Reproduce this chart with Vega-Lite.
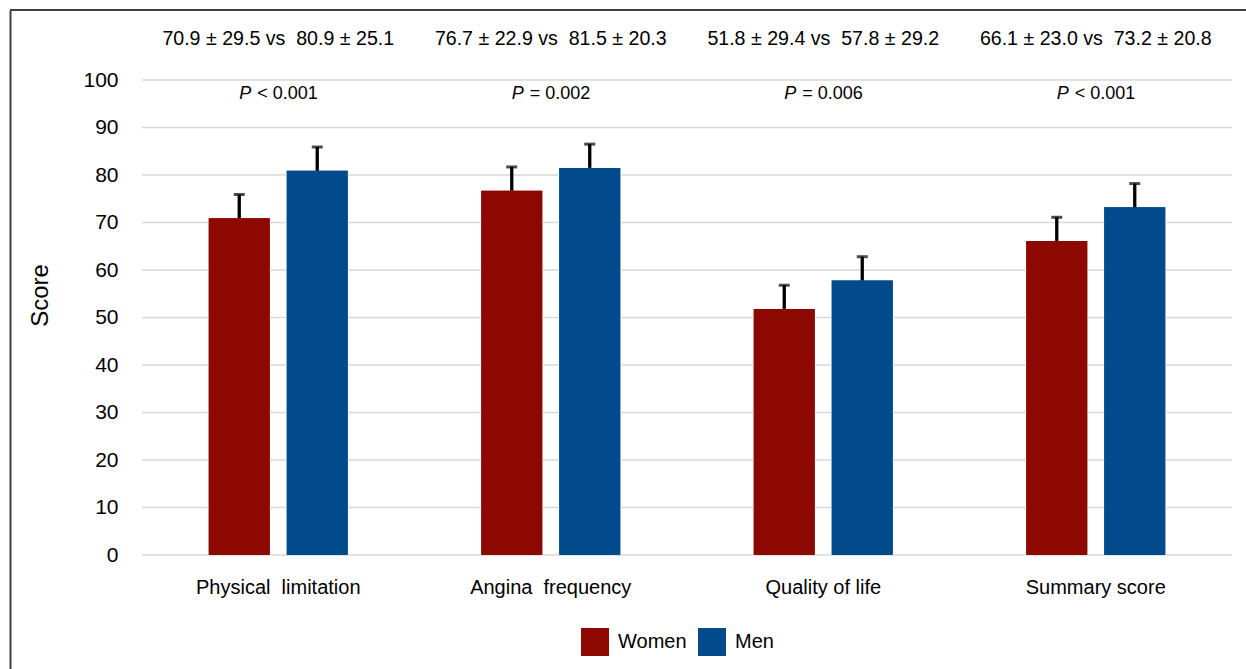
{
  "$schema": "https://vega.github.io/schema/vega-lite/v6.json",
  "width": 1236,
  "height": 659,
  "autosize": {"type": "none"},
  "padding": {"left": 10, "top": 10, "right": 0, "bottom": 0},
  "background": "white",
  "config": {"view": {"stroke": null}, "font": "Liberation Sans"},
  "datasets": {
    "scores": [
      {"category": "Physical\u00a0 limitation", "sex": "Women", "value": 70.9, "sd": 29.5, "upper": 75.9},
      {"category": "Physical\u00a0 limitation", "sex": "Men", "value": 80.9, "sd": 25.1, "upper": 85.9},
      {"category": "Angina\u00a0 frequency", "sex": "Women", "value": 76.7, "sd": 22.9, "upper": 81.7},
      {"category": "Angina\u00a0 frequency", "sex": "Men", "value": 81.5, "sd": 20.3, "upper": 86.5},
      {"category": "Quality of life", "sex": "Women", "value": 51.8, "sd": 29.4, "upper": 56.8},
      {"category": "Quality of life", "sex": "Men", "value": 57.8, "sd": 29.2, "upper": 62.8},
      {"category": "Summary score", "sex": "Women", "value": 66.1, "sd": 23.0, "upper": 71.1},
      {"category": "Summary score", "sex": "Men", "value": 73.2, "sd": 20.8, "upper": 78.2}
    ],
    "stats": [
      {"category": "Physical\u00a0 limitation", "label": "70.9 ± 29.5 vs\u00a0 80.9 ± 25.1", "p": "< 0.001"},
      {"category": "Angina\u00a0 frequency", "label": "76.7 ± 22.9 vs\u00a0 81.5 ± 20.3", "p": "= 0.002"},
      {"category": "Quality of life", "label": "51.8 ± 29.4 vs\u00a0 57.8 ± 29.2", "p": "= 0.006"},
      {"category": "Summary score", "label": "66.1 ± 23.0 vs\u00a0 73.2 ± 20.8", "p": "< 0.001"}
    ],
    "grid": [
      {"tick": 0}, {"tick": 10}, {"tick": 20}, {"tick": 30}, {"tick": 40}, {"tick": 50},
      {"tick": 60}, {"tick": 70}, {"tick": 80}, {"tick": 90}, {"tick": 100}
    ]
  },
  "layer": [
    {
      "data": {"name": "scores"},
      "mark": {"type": "bar"},
      "encoding": {
        "x": {
          "field": "category", "type": "nominal", "sort": null,
          "scale": {"range": [132, 1222], "paddingInner": 0, "paddingOuter": 0},
          "axis": {
            "orient": "bottom", "offset": -114, "domain": false, "ticks": false, "tickSize": 0,
            "labelPadding": 38, "labelBaseline": "alphabetic", "labelFontSize": 20,
            "labelColor": "black", "labelAngle": 0, "labelLimit": 400, "title": null
          }
        },
        "xOffset": {
          "field": "sex", "type": "nominal", "sort": ["Women", "Men"],
          "scale": {"domain": ["Women", "Men"], "paddingInner": 0.218, "paddingOuter": 0.856}
        },
        "y": {
          "field": "value", "type": "quantitative",
          "scale": {"domain": [-24, 114.74], "nice": false, "zero": false},
          "axis": {
            "values": [0, 10, 20, 30, 40, 50, 60, 70, 80, 90, 100],
            "grid": false, "domain": true, "domainColor": "#404040", "domainWidth": 2,
            "ticks": false, "tickSize": 0, "labelPadding": -108, "labelFontSize": 21,
            "labelColor": "black", "title": "Score", "titleFontSize": 24,
            "titleFontWeight": "normal", "titleColor": "black", "titleAngle": -90,
            "titleX": 30, "titleY": 285, "titleBaseline": "middle", "titleAlign": "center"
          }
        },
        "y2": {"datum": 0},
        "color": {
          "field": "sex", "type": "nominal",
          "scale": {"domain": ["Women", "Men"], "range": ["#8C0800", "#014A8C"]},
          "legend": {
            "orient": "none", "legendX": 571, "legendY": 618, "direction": "horizontal",
            "title": null, "symbolType": "square", "symbolSize": 784, "symbolStrokeWidth": 0,
            "labelFontSize": 20, "labelColor": "black", "labelOffset": 9, "columnPadding": 11,
            "padding": 0
          }
        }
      }
    },
    {
      "data": {"name": "grid"},
      "mark": {"type": "rule", "color": "#D9D9D9", "strokeWidth": 1.5},
      "encoding": {
        "x": {"datum": "Physical\u00a0 limitation", "type": "nominal", "bandPosition": 0},
        "x2": {"datum": "Summary score", "bandPosition": 1},
        "y": {"field": "tick", "type": "quantitative"}
      }
    },
    {
      "data": {"name": "grid"},
      "mark": {"type": "rule", "color": "#404040", "strokeWidth": 2},
      "encoding": {
        "y": {"datum": 114.74, "type": "quantitative"}
      }
    },
    {
      "data": {"name": "scores"},
      "mark": {"type": "bar"},
      "encoding": {
        "x": {"field": "category", "type": "nominal", "sort": null},
        "xOffset": {"field": "sex", "type": "nominal", "sort": ["Women", "Men"]},
        "y": {"field": "value", "type": "quantitative"},
        "y2": {"datum": 0},
        "color": {"field": "sex", "type": "nominal"}
      }
    },
    {
      "data": {"name": "scores"},
      "mark": {"type": "rule", "color": "black", "strokeWidth": 3.3},
      "encoding": {
        "x": {"field": "category", "type": "nominal", "sort": null},
        "xOffset": {"field": "sex", "type": "nominal", "sort": ["Women", "Men"]},
        "y": {"field": "value", "type": "quantitative"},
        "y2": {"field": "upper"}
      }
    },
    {
      "data": {"name": "scores"},
      "mark": {"type": "tick", "color": "black", "size": 11, "thickness": 3, "orient": "horizontal"},
      "encoding": {
        "x": {"field": "category", "type": "nominal", "sort": null},
        "xOffset": {"field": "sex", "type": "nominal", "sort": ["Women", "Men"]},
        "y": {"field": "upper", "type": "quantitative"}
      }
    },
    {
      "data": {"name": "stats"},
      "mark": {"type": "text", "fontSize": 19.6, "align": "center", "baseline": "alphabetic", "color": "black"},
      "encoding": {
        "x": {"field": "category", "type": "nominal", "sort": null},
        "y": {"datum": 107.4, "type": "quantitative"},
        "text": {"field": "label"}
      }
    },
    {
      "data": {"name": "stats"},
      "mark": {"type": "text", "fontSize": 18, "fontStyle": "italic", "align": "right", "baseline": "alphabetic", "dx": -27, "color": "black"},
      "encoding": {
        "x": {"field": "category", "type": "nominal", "sort": null},
        "y": {"datum": 96, "type": "quantitative"},
        "text": {"value": "P"}
      }
    },
    {
      "data": {"name": "stats"},
      "mark": {"type": "text", "fontSize": 18, "align": "left", "baseline": "alphabetic", "dx": -21, "color": "black"},
      "encoding": {
        "x": {"field": "category", "type": "nominal", "sort": null},
        "y": {"datum": 96, "type": "quantitative"},
        "text": {"field": "p"}
      }
    }
  ]
}
